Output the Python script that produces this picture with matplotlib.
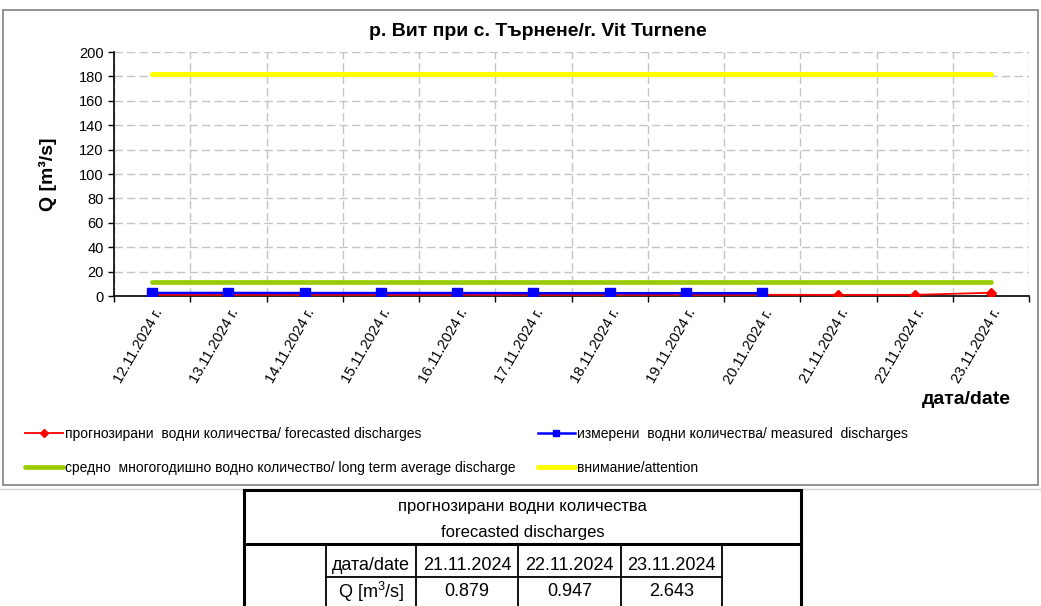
import matplotlib
matplotlib.use('Agg')
import matplotlib.pyplot as plt
import matplotlib.transforms as mtransforms
from matplotlib.patches import Rectangle
import numpy as np

plt.rcParams['font.family'] = ['Liberation Sans', 'DejaVu Sans']
plt.rcParams['mathtext.fontset'] = 'custom'
plt.rcParams['mathtext.rm'] = 'Liberation Sans'

W, H = 1041, 606

# --- data ---
dates = ['12.11.2024 г.', '13.11.2024 г.', '14.11.2024 г.', '15.11.2024 г.',
         '16.11.2024 г.', '17.11.2024 г.', '18.11.2024 г.', '19.11.2024 г.',
         '20.11.2024 г.', '21.11.2024 г.', '22.11.2024 г.', '23.11.2024 г.']
measured = [2.5, 2.5, 2.4, 2.4, 2.4, 2.3, 2.3, 2.3, 2.3]
forecast = [1.0, 1.0, 1.0, 1.0, 1.0, 1.0, 1.0, 1.0, 1.0, 0.879, 0.947, 2.643]
average_q = 11.3
attention_q = 182

table_dates = ['21.11.2024', '22.11.2024', '23.11.2024']
table_q = ['0.879', '0.947', '2.643']

title = 'р. Вит при с. Търнене/r. Vit Turnene'
lbl_forecast = 'прогнозирани  водни количества/ forecasted discharges'
lbl_measured = 'измерени  водни количества/ measured  discharges'
lbl_average = 'средно  многогодишно водно количество/ long term average discharge'
lbl_attention = 'внимание/attention'


def px(x, y):
    return x / W, 1 - y / H


fig = plt.figure(figsize=(W / 100, H / 100), dpi=100)

# chart frame
fig.add_artist(Rectangle(px(3, 485), 1035 / W, 475 / H, transform=fig.transFigure,
                         fill=False, edgecolor='#808080', lw=1.2))

ax = fig.add_axes([114 / W, 1 - 296 / H, (1029 - 114) / W, (296 - 52) / H])
x = np.arange(len(dates))

l_att, = ax.plot(x, [attention_q] * len(x), color='#FFFF00', lw=3.6,
                 solid_capstyle='round', label=lbl_attention, zorder=3)
l_avg, = ax.plot(x, [average_q] * len(x), color='#99CC00', lw=3.4,
                 solid_capstyle='round', label=lbl_average, zorder=3)
l_fc, = ax.plot(x, forecast, color='#FF0000', lw=1.3, marker='D', ms=5.5,
                label=lbl_forecast, zorder=4)
l_ms, = ax.plot(x[:len(measured)], measured, color='#0000FF', lw=1.8, marker='s',
                ms=6.5, label=lbl_measured, zorder=5)

ax.set_xlim(-0.5, len(dates) - 0.5)
ax.set_ylim(0, 200)
ax.set_yticks(range(0, 201, 20))
ax.set_xticks(np.arange(-0.5, len(dates), 1))
ax.set_xticklabels([])
ax.set_xticks(x, minor=True)
ax.set_xticklabels(dates, minor=True, rotation=60, ha='right', va='center',
                   rotation_mode='anchor', fontsize=10.5)
ax.tick_params(axis='x', which='minor', length=0, pad=10)
ax.tick_params(axis='both', which='major', direction='out', length=4, width=1,
               labelsize=10.5)
ax.grid(True, which='major', color='#c4c4c4', linestyle=(0, (6, 3)), lw=1)
ax.set_axisbelow(True)
for s in ['top', 'right']:
    ax.spines[s].set_visible(False)
for s in ['left', 'bottom']:
    ax.spines[s].set_linewidth(1.2)

offset = mtransforms.ScaledTranslation(7 / 100, 0, fig.dpi_scale_trans)
for lab in ax.get_xticklabels(minor=True):
    lab.set_transform(lab.get_transform() + offset)

ax.set_ylabel('Q [m³/s]', fontsize=14, fontweight='bold')
ax.yaxis.set_label_coords((57 - 114) / (1029 - 114), 0.5)

fig.text(*px(538, 31), title, ha='center', va='center', fontsize=14, fontweight='bold')
fig.text(*px(966, 400), 'дата/date', ha='center', va='center', fontsize=14,
         fontweight='bold')

leg = fig.legend(handles=[l_fc, l_avg, l_ms, l_att], ncol=2, loc='upper left',
                 bbox_to_anchor=px(25, 427), frameon=False, fontsize=10,
                 handlelength=2.7, handletextpad=0.15, labelspacing=1.42,
                 columnspacing=1.63, borderpad=0, borderaxespad=0)
for h in leg.legend_handles:
    h.set_markersize(4)

# --- forecast table ---
tab = fig.add_axes([0, 0, 1, 1])
tab.set_xlim(0, W)
tab.set_ylim(H, 0)
tab.axis('off')

tab.plot([0, 1041], [489, 489], color='#d0d0d0', lw=1)
cols = [244, 326, 416, 518, 621, 722, 801]
top, hdr, mid, bot = 490, 544, 577, 606
thick = dict(color='black', lw=2.2, solid_capstyle='projecting')
thin = dict(color='black', lw=1.3)
tab.plot([cols[0], cols[-1]], [top, top], **thick)
tab.plot([cols[0], cols[-1]], [hdr, hdr], **thick)
tab.plot([cols[0], cols[0]], [top, bot], **thick)
tab.plot([cols[-1], cols[-1]], [top, bot], **thick)
for c in cols[1:-1]:
    tab.plot([c, c], [hdr, bot], **thin)
tab.plot([cols[1], cols[-2]], [mid, mid], **thin)

cx = (cols[0] + cols[-1]) / 2
tab.text(cx, 507, 'прогнозирани водни количества', ha='center', va='center', fontsize=12)
tab.text(cx, 533, 'forecasted discharges', ha='center', va='center', fontsize=12)
tab.text((cols[1] + cols[2]) / 2, 565, 'дата/date', ha='center', va='center', fontsize=13)
tab.text((cols[1] + cols[2]) / 2, 592, r'Q [m$^{3}$/s]', ha='center', va='center', fontsize=13)
for i, (d, q) in enumerate(zip(table_dates, table_q)):
    xc = (cols[i + 2] + cols[i + 3]) / 2
    tab.text(xc, 565, d, ha='center', va='center', fontsize=13)
    tab.text(xc, 592, q, ha='center', va='center', fontsize=13)

fig.savefig('out.png', dpi=100)
